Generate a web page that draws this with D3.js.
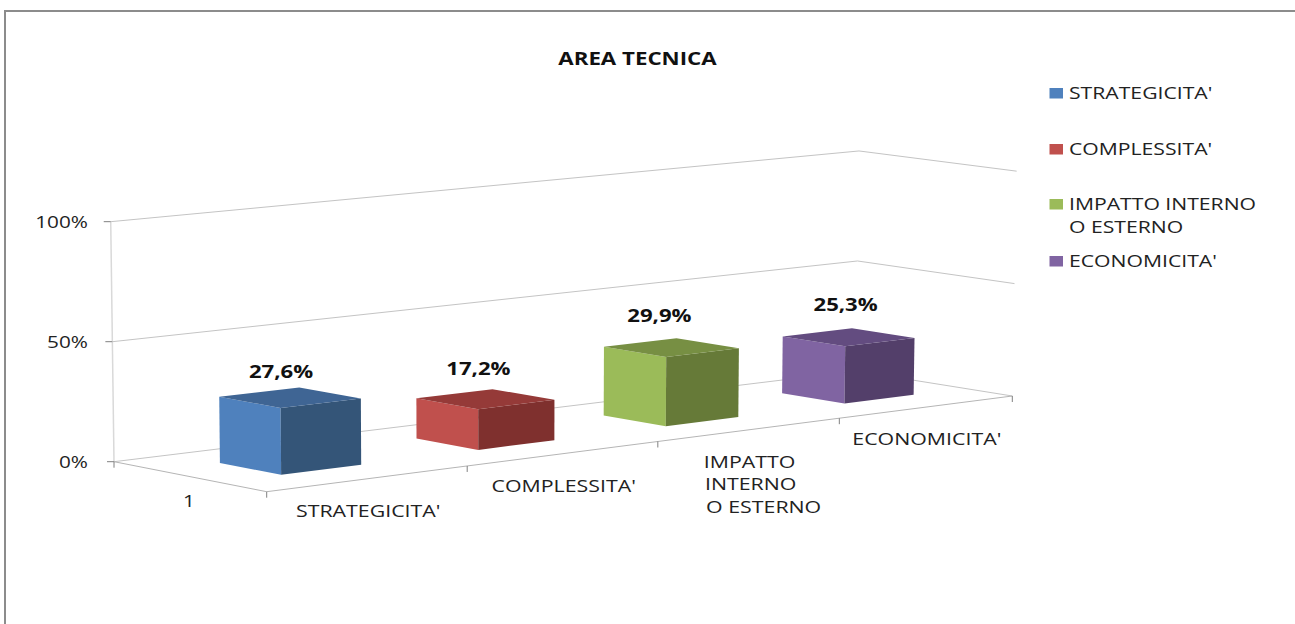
<!DOCTYPE html>
<meta charset="utf-8">
<head>
<title>AREA TECNICA</title>
<style>
  html, body { margin: 0; padding: 0; background: #fff; overflow: hidden; }
  text { font-family: "Open Sans", sans-serif; fill: #222; }
</style>
</head>
<body>
<div id="chart"></div>
<script src="https://d3js.org/d3.v7.min.js"></script>
<script>
var chartTitle = "AREA TECNICA";
var categories = ["STRATEGICITA'", "COMPLESSITA'", "IMPATTO INTERNO O ESTERNO", "ECONOMICITA'"];
var values = [27.6, 17.2, 29.9, 25.3];
var valueLabels = ["27,6%", "17,2%", "29,9%", "25,3%"];
var valueTicks = [0, 50, 100];
var depthCategories = ["1"];
var axisLabelLines = [["STRATEGICITA'"], ["COMPLESSITA'"], ["IMPATTO", "INTERNO", " O ESTERNO"], ["ECONOMICITA'"]];
var legendLines = [["STRATEGICITA'"], ["COMPLESSITA'"], ["IMPATTO INTERNO", "O ESTERNO"], ["ECONOMICITA'"]];

// front, side and top face of each box
var frontColors = ["#4f81bd", "#c0504d", "#9bbb59", "#8064a2"];
var sideColors = ["#345578", "#7f302e", "#667a38", "#533f6a"];
var topColors = ["#3f6594", "#953a38", "#778f43", "#634c80"];

// floor corners on screen, used to build the perspective
var floorFL = [266.7, 491.7], floorFR = [1012.3, 396], floorBR = [856, 371], floorBL = [114, 461.7];
var fullHeight = 245.8, heightPower = 0.906, lean = 0.0085, leanCenter = 500;

var width = 1295, height = 624;

var svg = d3.select("#chart").append("svg")
  .attr("width", width)
  .attr("height", height)
  .style("display", "block");

// unit square -> floor quad
var dx1 = floorFR[0] - floorBR[0], dx2 = floorBL[0] - floorBR[0];
var dy1 = floorFR[1] - floorBR[1], dy2 = floorBL[1] - floorBR[1];
var sx = floorFL[0] - floorFR[0] + floorBR[0] - floorBL[0];
var sy = floorFL[1] - floorFR[1] + floorBR[1] - floorBL[1];
var den = dx1 * dy2 - dx2 * dy1;
var g = (sx * dy2 - dx2 * sy) / den;
var h = (dx1 * sy - sx * dy1) / den;

// u along the categories, v into the depth, w is 0..1 of the value axis
function project(u, v, w) {
  var d = 1 + g * u + h * v;
  var x = (floorFL[0] + (floorFR[0] * (1 + g) - floorFL[0]) * u + (floorBL[0] * (1 + h) - floorFL[0]) * v) / d;
  var y = (floorFL[1] + (floorFR[1] * (1 + g) - floorFL[1]) * u + (floorBL[1] * (1 + h) - floorFL[1]) * v) / d;
  return [x + (x - leanCenter) * lean * w, y - fullHeight / Math.pow(d, heightPower) * w];
}

var u = d3.scaleBand().domain(categories).range([0, 1]).paddingInner(0.6).paddingOuter(0.3);
var v = d3.scaleBand().domain(depthCategories).range([0, 1]).paddingInner(0).paddingOuter(0.75);
var w = d3.scaleLinear().domain([0, 100]).range([0, 1]);
var line = d3.line();

// stretch the text sideways, the reference picture is scaled wider than tall
function stretch(sel, k) {
  sel.each(function() {
    this.setAttribute("lengthAdjust", "spacingAndGlyphs");
    this.setAttribute("textLength", this.getComputedTextLength() * k);
  });
}

// frame
svg.append("path")
  .attr("d", line([[5, height], [5, 11], [width, 11]]))
  .attr("fill", "none").attr("stroke", "#8c8c8c").attr("stroke-width", 2);

svg.append("text")
  .attr("x", 637.5).attr("y", 59).attr("dy", "0.35em")
  .attr("text-anchor", "middle")
  .style("font-size", "18px").style("font-weight", 700).style("fill", "#111")
  .text(chartTitle)
  .call(stretch, 1.238);

// walls
var walls = svg.append("g").attr("fill", "none").attr("stroke", "#c4c4c4");
walls.selectAll("path.grid")
  .data(valueTicks)
  .enter().append("path")
  .attr("class", "grid")
  .attr("d", function(d) {
    return line([project(0, 1, w(d)), project(1, 1, w(d)), project(1, 0, w(d))]);
  });
walls.append("path")
  .attr("d", line([project(0, 1, 0), project(0, 1, 1)]))
  .attr("stroke", "#d9d9d9").attr("stroke-width", 1.5);

// floor
var axisGroup = svg.append("g").attr("fill", "none").attr("stroke", "#b5b5b5");
axisGroup.append("path").attr("d", line([project(0, 1, 0), project(0, 0, 0), project(1, 0, 0)]));

// ticks on the axes
var tickGroup = svg.append("g").attr("fill", "none").attr("stroke", "#808080");
tickGroup.selectAll("path.vtick")
  .data(valueTicks)
  .enter().append("path")
  .attr("class", "vtick")
  .attr("d", function(d) {
    var p = project(0, 1, w(d));
    return line([[p[0] - 7, p[1]], p]);
  });
var frontTicks = [0, 1, 2, 3, 4];
tickGroup.selectAll("path.ftick")
  .data(frontTicks)
  .enter().append("path")
  .attr("class", "ftick")
  .attr("d", function(i) {
    var p = project(i * u.step(), 0, 0);
    return line([p, [p[0], p[1] + 6]]);
  });
var backTick = project(0, 1, 0);
tickGroup.append("path").attr("d", line([backTick, [backTick[0], backTick[1] + 6]]));

svg.selectAll("text.vlabel")
  .data(valueTicks)
  .enter().append("text")
  .attr("class", "vlabel")
  .attr("x", 88)
  .attr("y", function(d) { return project(0, 1, w(d))[1]; })
  .attr("dy", "0.36em")
  .attr("text-anchor", "end")
  .style("font-size", "17px")
  .text(function(d) { return d + "%"; })
  .call(stretch, 1.22);

svg.append("text")
  .attr("x", 189).attr("y", 501).attr("dy", "0.36em")
  .attr("text-anchor", "middle")
  .style("font-size", "17px")
  .text(depthCategories[0])
  .call(stretch, 1.22);

// boxes
var boxes = svg.selectAll("g.box")
  .data(categories)
  .enter().append("g")
  .attr("class", "box");

var v0 = v(depthCategories[0]), v1 = v0 + v.bandwidth();

boxes.append("path")
  .attr("fill", function(d, i) { return frontColors[i]; })
  .attr("d", function(d, i) {
    var u0 = u(d), top = w(values[i]);
    return line([project(u0, v1, 0), project(u0, v0, 0), project(u0, v0, top), project(u0, v1, top)]) + "Z";
  });
boxes.append("path")
  .attr("fill", function(d, i) { return sideColors[i]; })
  .attr("d", function(d, i) {
    var u0 = u(d), u1 = u0 + u.bandwidth(), top = w(values[i]);
    return line([project(u0, v0, 0), project(u1, v0, 0), project(u1, v0, top), project(u0, v0, top)]) + "Z";
  });
boxes.append("path")
  .attr("fill", function(d, i) { return topColors[i]; })
  .attr("d", function(d, i) {
    var u0 = u(d), u1 = u0 + u.bandwidth(), top = w(values[i]);
    return line([project(u0, v0, top), project(u1, v0, top), project(u1, v1, top), project(u0, v1, top)]) + "Z";
  });

// value labels sit above the top face, nudged a bit per box
var labelNudgeX = [-9, -7, -12, -3];
var labelNudgeY = [-26, -31, -32, -33];
svg.selectAll("text.value")
  .data(categories)
  .enter().append("text")
  .attr("class", "value")
  .attr("x", function(d, i) { return project(u(d) + u.bandwidth() / 2, v0 + v.bandwidth() / 2, w(values[i]))[0] + labelNudgeX[i]; })
  .attr("y", function(d, i) { return project(u(d) + u.bandwidth() / 2, v0 + v.bandwidth() / 2, w(values[i]))[1] + labelNudgeY[i]; })
  .attr("dy", "0.36em")
  .attr("text-anchor", "middle")
  .style("font-size", "18px").style("font-weight", 700).style("fill", "#111")
  .text(function(d, i) { return valueLabels[i]; })
  .call(stretch, 1.23);

// category labels under the front edge
var lineNudge = [[0], [0], [0, 1, 14], [0]];
axisLabelLines.forEach(function(lines, i) {
  var p = project(u(categories[i]) + u.bandwidth() / 2, 0, 0);
  svg.selectAll("text.cat" + i)
    .data(lines)
    .enter().append("text")
    .attr("class", "cat" + i)
    .attr("x", function(d, j) { return p[0] + lineNudge[i][j]; })
    .attr("y", function(d, j) { return p[1] + 32 + j * 22.5; })
    .attr("dy", "0.36em")
    .attr("text-anchor", "middle")
    .style("font-size", "17px")
    .text(function(d) { return d.trim(); })
    .call(stretch, 1.255);
});

// legend
var legendY = [93, 149, 204, 261];
var legend = svg.selectAll("g.legend")
  .data(categories)
  .enter().append("g")
  .attr("class", "legend");
legend.append("rect")
  .attr("x", 1049.5).attr("width", 13.5).attr("height", 10.5)
  .attr("y", function(d, i) { return legendY[i] - 5; })
  .attr("fill", function(d, i) { return frontColors[i]; });
legendLines.forEach(function(lines, i) {
  svg.selectAll("text.leg" + i)
    .data(lines)
    .enter().append("text")
    .attr("class", "leg" + i)
    .attr("x", 1069)
    .attr("y", function(d, j) { return legendY[i] + j * 22.5; })
    .attr("dy", "0.36em")
    .style("font-size", "17px")
    .text(function(d) { return d; })
    .call(stretch, 1.245);
});
</script>
</body>
